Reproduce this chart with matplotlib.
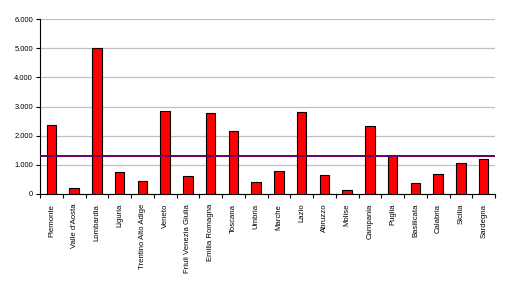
import matplotlib
matplotlib.use("Agg")
import matplotlib.pyplot as plt
import numpy as np
from matplotlib.ticker import FuncFormatter, FixedLocator

regioni = ["Piemonte", "Valle d'Aosta", "Lombardia", "Liguria",
           "Trentino Alto Adige", "Veneto", "Friuli Venezia Giulia",
           "Emilia Romagna", "Toscana", "Umbria", "Marche", "Lazio",
           "Abruzzo", "Molise", "Campania", "Puglia", "Basilicata",
           "Calabria", "Sicilia", "Sardegna"]
valori = [2370, 205, 5020, 753, 445, 2850, 616, 2780, 2160, 411,
          787, 2815, 650, 125, 2335, 1335, 376, 684, 1061, 1198]
soglia = 1290
y_ticks = [0, 1000, 2000, 3000, 4000, 5000, 6000]

plt.rcParams['font.family'] = ['Liberation Sans', 'DejaVu Sans']

fig = plt.figure(figsize=(5.28, 2.84), dpi=100)
ax = fig.add_axes([40/528, 1 - 194/284, 455/528, 175/284])

x = np.arange(len(regioni))
ax.bar(x, valori, width=0.42, color='#ff0000', edgecolor='black', linewidth=0.8, zorder=3)
ax.axhline(soglia, color='#660066', linewidth=1.4, zorder=4)

ax.set_xlim(-0.5, len(regioni) - 0.5)
ax.set_ylim(0, 6000)
ax.set_yticks(y_ticks)
ax.yaxis.set_major_formatter(FuncFormatter(lambda v, p: f"{int(v):,}".replace(",", ".")))
ax.yaxis.grid(True, color='#c0c0c0', linewidth=0.9, zorder=0)

# ticks between categories, labels centered
ax.xaxis.set_major_locator(FixedLocator(np.arange(-0.5, len(regioni), 1.0)))
ax.xaxis.set_major_formatter(plt.NullFormatter())
ax.xaxis.set_minor_locator(FixedLocator(x))
ax.set_xticklabels(regioni, minor=True, rotation=90, fontsize=5.6)
ax.tick_params(axis='x', which='minor', length=0, pad=7)
ax.tick_params(axis='x', which='major', length=3, width=0.8, direction='out')
ax.tick_params(axis='y', length=3, width=0.8, labelsize=5.4, pad=2)

for s in ['top', 'right']:
    ax.spines[s].set_visible(False)
ax.spines['left'].set_linewidth(0.8)
ax.spines['bottom'].set_linewidth(0.8)

fig.savefig("out.png", dpi=100)
